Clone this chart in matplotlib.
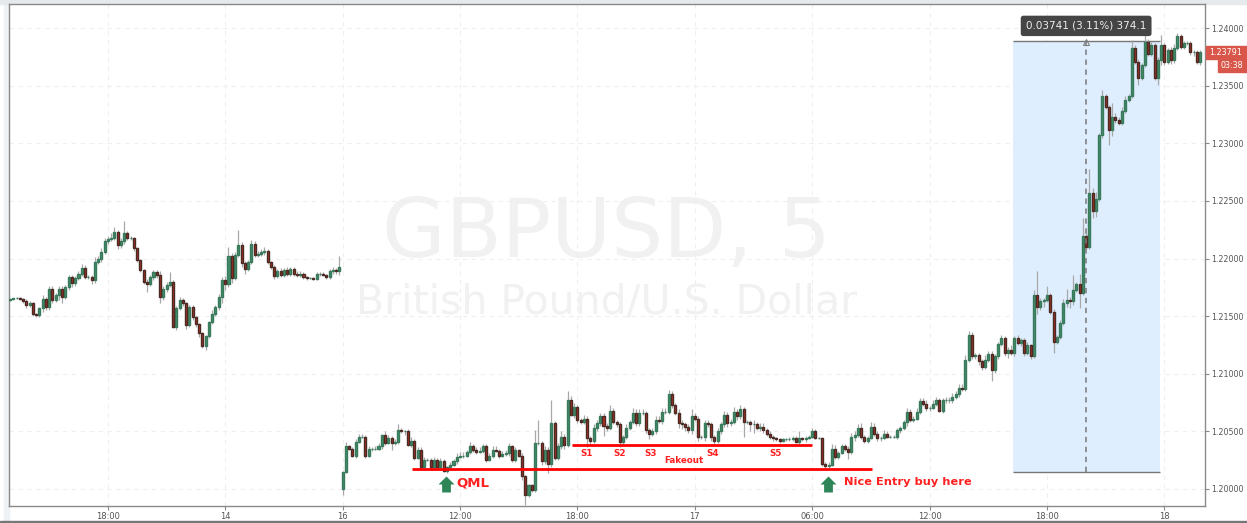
import numpy as np
import matplotlib
matplotlib.use("Agg")
import matplotlib.pyplot as plt
from matplotlib.patches import Rectangle

# -----------------------------
# CLOSES (first bar of each session opens at its own price)
# -----------------------------

closes_before = [
    1.2165,1.2166,1.2166,1.2165,1.2163,1.2160,1.2161,1.2152,1.2151,1.2157,
    1.2165,1.2158,1.2174,1.2164,1.2168,1.2174,1.2167,1.2175,1.2184,1.2179,
    1.2183,1.2187,1.2192,1.2184,1.2184,1.2181,1.2197,1.2200,1.2206,1.2215,
    1.2217,1.2218,1.2223,1.2212,1.2215,1.2222,1.2218,1.2218,1.2209,1.2199,
    1.2190,1.2180,1.2178,1.2184,1.2188,1.2186,1.2167,1.2174,1.2177,1.2180,
    1.2141,1.2157,1.2164,1.2161,1.2142,1.2158,1.2149,1.2143,1.2135,1.2124,
    1.2133,1.2145,1.2152,1.2158,1.2167,1.2181,1.2178,1.2202,1.2183,1.2203,
    1.2212,1.2196,1.2191,1.2197,1.2213,1.2203,1.2204,1.2206,1.2207,1.2197,
    1.2193,1.2185,1.2189,1.2186,1.2190,1.2187,1.2191,1.2187,1.2186,1.2187,
    1.2184,1.2183,1.2183,1.2182,1.2187,1.2187,1.2186,1.2184,1.2189,1.2190,
    1.2189,1.2193,
]

closes_after = [
    1.2015,1.2037,1.2035,1.2029,1.2041,1.2045,1.2045,1.2029,1.2035,1.2035,
    1.2035,1.2037,1.2047,1.2040,1.2044,1.2040,1.2041,1.2051,1.2050,1.2050,
    1.2038,1.2042,1.2027,1.2034,1.2019,1.2025,1.2025,1.2019,1.2025,1.2019,
    1.2024,1.2016,1.2019,1.2021,1.2024,1.2028,1.2029,1.2029,1.2032,1.2037,
    1.2034,1.2032,1.2033,1.2037,1.2025,1.2029,1.2034,1.2033,1.2029,1.2030,
    1.2031,1.2037,1.2025,1.2034,1.2029,1.2011,1.1995,1.2003,1.1999,1.2040,
    1.2040,1.2024,1.2034,1.2022,1.2057,1.2027,1.2037,1.2045,1.2038,1.2077,
    1.2064,1.2071,1.2060,1.2058,1.2061,1.2044,1.2042,1.2053,1.2057,1.2063,
    1.2055,1.2053,1.2068,1.2058,1.2056,1.2041,1.2045,1.2053,
    1.2058,1.2066,1.2057,1.2066,1.2066,1.2051,1.2048,1.2050,1.2060,1.2059,
    1.2067,1.2067,1.2082,1.2073,1.2066,1.2057,1.2056,1.2054,1.2051,1.2063,
    1.2061,1.2045,1.2045,1.2057,1.2056,1.2045,1.2042,1.2050,1.2056,1.2064,
    1.2057,1.2058,1.2067,1.2063,1.2069,1.2058,1.2058,1.2056,1.2056,1.2053,
    1.2054,1.2051,1.2048,1.2045,1.2044,1.2043,1.2042,1.2043,1.2043,1.2043,
    1.2044,1.2041,1.2044,1.2043,1.2044,1.2045,1.2050,1.2044,1.2044,1.2022,
    1.2020,1.2021,1.2035,1.2028,1.2031,1.2037,1.2035,1.2032,1.2045,1.2047,
    1.2053,1.2045,1.2042,1.2044,1.2054,1.2048,1.2044,1.2044,1.2048,1.2045,
    1.2045,1.2045,1.2051,1.2053,1.2058,1.2067,1.2060,1.2061,1.2067,1.2076,
    1.2074,1.2070,1.2070,1.2074,1.2077,1.2068,1.2077,1.2077,1.2077,1.2080,
    1.2082,1.2088,1.2087,1.2112,
    1.2134,1.2115,1.2116,1.2111,1.2106,1.2112,1.2117,1.2103,1.2115,1.2126,
    1.2131,1.2118,1.2121,1.2118,1.2131,1.2127,1.2129,1.2118,1.2125,1.2115,
    1.2168,1.2158,1.2163,1.2164,1.2168,1.2154,1.2128,1.2132,1.2144,1.2161,
    1.2164,1.2163,1.2173,1.2178,1.2170,1.2220,1.2210,1.2257,1.2241,1.2252,
    1.2307,1.2341,1.2332,1.2312,1.2323,1.2320,1.2318,1.2328,1.2338,1.2341,
    1.2383,1.2371,1.2357,1.2368,1.2388,1.2378,1.2385,1.2357,1.2372,1.2385,
    1.2371,1.2381,1.2372,1.2383,1.2393,1.2384,1.2387,1.2387,1.2379,1.2379,
    1.2371,1.2379,
]

first_opens = [1.2164, 1.2000]

# -----------------------------
# WICK LENGTHS IN PIPS
# -----------------------------

wick_up = [
    1,0,1,1,1,2,2,1,1,1, 3,2,2,2,2,2,2,2,2,2, 2,2,3,2,2,2,4,2,3,3,
    3,4,4,2,3,11,2,2,1,1, 1,1,2,2,2,2,3,2,3,8, 1,2,3,2,1,2,2,1,1,1,
    1,1,3,2,2,3,4,8,3,3, 13,2,2,2,3,2,3,2,3,1, 1,1,2,3,2,3,2,2,2,2,
    1,1,1,1,1,1,1,1,2,3, 2,9,
    1,4,1,1,2,3,3,2,2,1, 2,3,1,3,3,2,2,5,2,1, 2,3,1,2,2,3,2,2,3,2,
    3,2,1,2,2,3,3,3,2,4, 2,2,3,2,2,2,3,3,2,3, 3,3,1,2,1,2,1,1,1,11,
    20,2,3,2,20,2,3,5,3,8, 4,4,2,2,3,2,2,3,3,3, 3,2,5,2,2,2,2,3,
    2,4,3,3,3,2,2,3,3,3, 3,3,4,3,2,3,3,2,2,6, 3,2,2,3,3,2,2,3,2,4,
    3,3,4,2,4,2,2,2,4,2, 3,3,2,2,2,1,1,1,1,2, 2,2,6,1,2,2,3,2,1,1,
    1,2,4,3,2,2,2,2,4,3, 3,4,2,2,4,3,2,2,3,2, 2,2,2,2,2,3,2,2,3,3,
    3,3,2,3,3,2,2,3,3,3, 3,3,3,4,
    3,2,2,2,2,4,3,3,2,2, 3,2,2,4,2,3,2,2,3,1, 5,21,3,2,8,2,2,2,3,4,
    10,3,13,2,9,15,2,21,4,6, 2,5,2,1,12,3,3,4,3,2, 7,2,2,2,6,3,3,2,3,9,
    2,2,3,3,3,2,2,2,2,2, 2,2,
]

wick_down = [
    1,1,1,1,2,3,2,2,2,2, 3,3,3,3,2,4,6,2,2,4, 3,2,2,2,2,3,2,2,3,2,
    2,2,2,4,3,2,2,2,2,2, 2,2,7,2,3,3,6,3,3,2, 1,3,2,2,3,1,2,2,3,2,
    3,2,2,2,3,6,5,3,4,2, 2,3,4,2,2,2,2,2,3,2, 2,3,2,2,2,2,2,2,2,2,
    2,2,1,1,1,2,1,2,2,2, 2,3,
    5,1,1,1,2,1,1,2,1,2, 1,1,2,2,1,6,2,2,1,3, 1,2,2,1,2,1,1,2,2,1,
    2,1,2,1,1,2,1,2,1,2, 2,2,1,2,2,1,2,1,2,1, 1,2,2,2,1,3,9,2,2,2,
    2,3,2,8,3,2,2,2,3,2, 1,2,3,2,2,8,4,2,3,2, 9,3,2,2,2,5,2,2,
    2,2,2,2,2,2,5,2,2,2, 3,2,2,3,2,4,4,4,2,3, 2,3,2,3,2,3,3,2,2,2,
    3,2,2,3,2,13,2,6,7,2, 3,2,2,2,2,1,2,1,1,1, 1,1,3,1,2,1,1,1,1,2,
    2,2,1,2,2,1,2,6,2,3, 2,2,2,2,1,2,2,2,1,1, 1,1,2,2,2,3,2,2,1,2,
    2,2,2,1,2,1,2,2,2,2, 2,2,2,2,
    2,2,2,3,3,2,2,9,2,2, 2,3,4,2,3,2,3,3,2,2, 1,6,3,5,2,2,10,2,2,2,
    3,6,3,2,13,2,2,2,6,5, 2,2,2,13,6,2,2,2,2,2, 2,2,6,2,2,2,2,2,6,4,
    3,2,3,2,2,2,2,2,2,3, 2,3,
]

# -----------------------------
# AXIS TICKS
# -----------------------------

y_ticks = [1.20, 1.205, 1.21, 1.215, 1.22, 1.225, 1.23, 1.235, 1.24]
x_ticks = [30, 66, 102, 138, 174, 210, 246, 282, 318, 354]
x_labels = ["18:00", "14", "16", "12:00", "18:00", "17", "06:00", "12:00", "18:00", "18"]

# measure tool and trader's marks
measure_start, measure_end, measure_mid = 307.6, 352.6, 330
measure_low, measure_high = 1.2015, 1.23891
qml_level, qml_from, qml_to = 1.20174, 123.3, 264.3
support_level, support_from, support_to = 1.2038, 172.3, 245.8
support_labels = ["S1", "S2", "S3", "S4", "S5"]
support_label_x = [176.9, 187, 196.3, 215.6, 234.9]
entry_arrows_x = [133.7, 250.8]

# -----------------------------
# BUILD THE BARS
# -----------------------------

closes = np.array(closes_before + closes_after)
opens = np.r_[first_opens[0], closes_before[:-1], first_opens[1], closes_after[:-1]]
x = np.arange(len(closes))
pip = 0.0001
highs = np.maximum(opens, closes) + np.array(wick_up) * pip
lows = np.minimum(opens, closes) - np.array(wick_down) * pip
up = closes >= opens

# -----------------------------
# FIGURE
# -----------------------------

fig = plt.figure(figsize=(12.47, 5.23), dpi=100, facecolor="white")
ax = fig.add_axes([9/1247, 1 - 506/523, (1205 - 9)/1247, (506 - 4)/523])
ax.set_xlim(-0.31, 366.45)
ax.set_ylim(1.19852, 1.2421)

# strips of the screenshot around the chart
for box, shade in [((4, 0, 5, 523), "#eef2f5"), ((0, 0, 1247, 2), "#777777"), ((0, 519, 1247, 4), "#e6eaed")]:
    fig.patches.append(Rectangle((box[0]/1247, box[1]/523), box[2]/1247, box[3]/523,
                                 transform=fig.transFigure, color=shade, zorder=-5))

# watermark
ax.text(183, 1.2221, "GBPUSD, 5", fontsize=59, color="#f1f1f1", ha="center", va="center", zorder=0)
ax.text(183, 1.2162, "British Pound/U.S. Dollar", fontsize=29.5, color="#f1f1f1", ha="center", va="center", zorder=0)

ax.grid(True, color="#efefef", linestyle=(0, (4, 4)), linewidth=0.8, zorder=0)
ax.set_axisbelow(True)

# measure box
ax.add_patch(Rectangle((measure_start, measure_low), measure_end - measure_start,
                       measure_high - measure_low, color="#dfeeff", lw=0, zorder=1))
ax.hlines([measure_low, measure_high], measure_start, measure_end, color="#777777", lw=1, zorder=2)

# candles
ax.vlines(x, lows, highs, color="#a8a8a8", lw=0.9, zorder=3)
ax.bar(x[up], (closes - opens)[up], 0.62, opens[up], color="#428f6a", edgecolor="#3a7a5c", lw=1.0, zorder=4)
ax.bar(x[~up], (closes - opens)[~up], 0.62, opens[~up], color="#b3301f", edgecolor="#4a2a24", lw=1.0, zorder=4)

ax.vlines(measure_mid, measure_low, measure_high, color="#777777", lw=1.1, linestyle=(0, (3.5, 3)), zorder=5)
ax.plot(measure_mid, measure_high - 0.00012, marker="^", ms=4, mfc="none", mec="#777777", mew=0.7, zorder=5)
ax.text(measure_mid, 1.2402, "0.03741 (3.11%) 374.1", color="#eeeeee", fontsize=7.5, ha="center", va="center",
        bbox=dict(boxstyle="round,pad=0.5,rounding_size=0.25", fc="#454545", ec="none"), zorder=8)

# trader's marks
ax.hlines(qml_level, qml_from, qml_to, color="#ff0000", lw=2, zorder=6)
ax.hlines(support_level, support_from, support_to, color="#ff0000", lw=2, zorder=6)
for name, px in zip(support_labels, support_label_x):
    ax.text(px, 1.2031, name, color="#ff2020", fontsize=6.3, fontweight="bold", ha="center", va="center", zorder=7)
ax.text(206.7, 1.2025, "Fakeout", color="#ff2020", fontsize=6.3, fontweight="bold", ha="center", va="center", zorder=7)
ax.text(137, 1.2005, "QML", color="#ff2020", fontsize=9.5, fontweight="bold", ha="left", va="center", zorder=7)
ax.text(255.7, 1.2006, "Nice Entry buy here", color="#ff2020", fontsize=8.2, fontweight="bold", ha="left", va="center", zorder=7)

arrow = [(-1, 0), (0, 1), (1, 0), (0.55, 0), (0.55, -1), (-0.55, -1), (-0.55, 0)]
ax.plot(entry_arrows_x, [1.2004, 1.2004], linestyle="none", marker=arrow, ms=11.5, color="#2e8558", mew=0, zorder=7)

# axes
ax.yaxis.tick_right()
ax.set_yticks(y_ticks)
ax.set_yticklabels(["%.5f" % v for v in y_ticks])
ax.set_xticks(x_ticks)
ax.set_xticklabels(x_labels)
ax.tick_params(axis="both", labelsize=6, labelcolor="#555555", color="#888888", length=3, width=0.8, pad=1.5)
ax.tick_params(axis="y", labelsize=5.7)
for side in ax.spines.values():
    side.set_color("#8a8a8a")
    side.set_linewidth(1)

# last price and countdown
for box, txt in [((1206, 464, 41, 13), "1.23791"), ((1218, 451, 29, 12), "03:38")]:
    fig.patches.append(Rectangle((box[0]/1247, box[1]/523), box[2]/1247, box[3]/523,
                                 transform=fig.transFigure, color="#d9574a", zorder=5))
    fig.text((box[0] + box[2]/2 - 0.5)/1247, (box[1] + box[3]/2)/523, txt, color="white", fontsize=5.8,
             ha="center", va="center", zorder=6)

plt.savefig("out.png", dpi=100)
